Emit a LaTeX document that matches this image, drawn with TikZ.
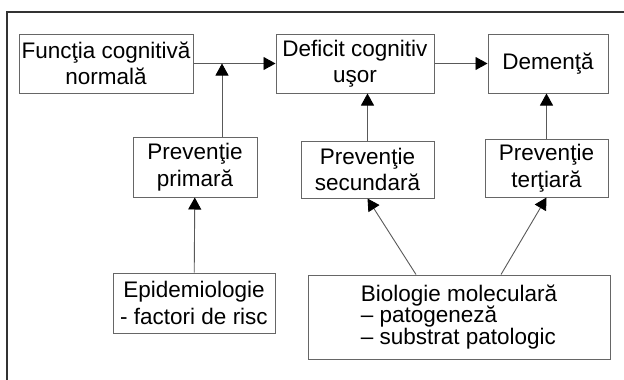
\documentclass[tikz,border=0pt]{standalone}
\usepackage{fontspec}
\setmainfont{Liberation Sans}
\usetikzlibrary{arrows.meta}
\begin{document}
\begin{tikzpicture}[x=1pt,y=-1pt,
    >={Triangle[length=12pt,width=13pt,color=black]},
    cbox/.style={draw=black!60,line width=1pt,inner sep=0pt,align=center,
      font=\fontsize{22.5}{26.5}\selectfont},
    link/.style={->,draw=black!65,line width=0.9pt}]
    \useasboundingbox (0,0) rectangle (624,380);
    % frame
    \draw[black!80,line width=1.3pt] (7,380) -- (7,12) -- (624,12);
    % top row
    \node[cbox,minimum width=174pt,minimum height=59pt] (norm) at (106,63.5) {Funcţia cognitivă\\normală};
    \node[cbox,minimum width=158pt,minimum height=59pt] (mci) at (355,63.5) {Deficit cognitiv\\uşor};
    \node[cbox,minimum width=120pt,minimum height=59pt] (dem) at (548,63.5) {Demenţă};
    % prevention
    \node[cbox,minimum width=124pt,minimum height=60pt] (prim) at (195,167) {Prevenţie\\primară};
    \node[cbox,minimum width=133pt,minimum height=57pt] (sec) at (367.5,169.5) {Prevenţie\\secundară};
    \node[cbox,minimum width=123pt,minimum height=58pt] (tert) at (546.5,168) {Prevenţie\\terţiară};
    % sources
    \node[cbox,minimum width=162pt,minimum height=60pt] (epi) at (194,303) {Epidemiologie\\- factori de risc};
    \node[cbox,minimum width=302pt,minimum height=84pt,align=left,
      font=\fontsize{22.5}{21.5}\selectfont] (bio) at (459,317)
      {Biologie moleculară\\– patogeneză\\– substrat patologic};
    \coordinate (join) at (222,63.5);
    % arrows
    \draw[link] (norm) -- (mci);
    \draw[link] (mci) -- (dem);
    \draw[link] (prim.north -| join) -- (join);
    \draw[link] (epi) -- (prim);
    \draw[link] (sec.north) -- (sec.north |- mci.south);
    \draw[link] (tert.north) -- (tert.north |- dem.south);
    \draw[link] ([xshift=-43pt]bio.north) -- (sec.south);
    \draw[link] ([xshift=42pt]bio.north) -- (tert.south);
\end{tikzpicture}
\end{document}
